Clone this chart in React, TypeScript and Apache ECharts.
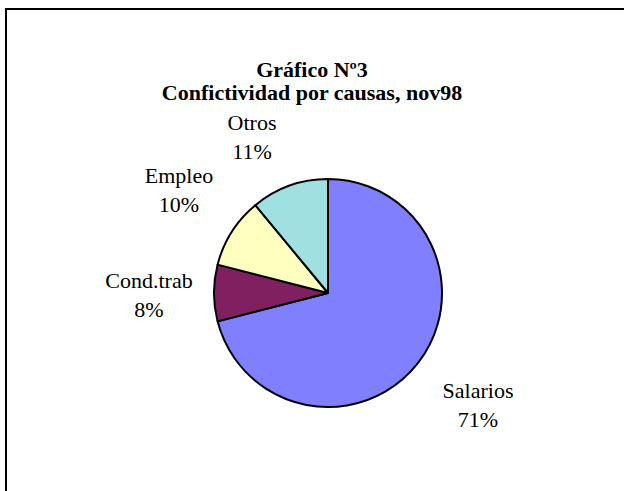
import React, { useEffect, useRef } from "react";
import * as echarts from "echarts";

const TITLE_LINES = ["Gráfico Nº3", "Confictividad por causas, nov98"];
const CATEGORIES = ["Salarios", "Cond.trab", "Empleo", "Otros"];
const VALUES = [71, 8, 10, 11];
const COLORS = ["#8080FF", "#802060", "#FFFFC0", "#A0E0E0"];

// label block centres (layout only)
const LABEL_ANCHORS: Record<string, [number, number]> = {
  Salarios: [478, 405],
  "Cond.trab": [149, 295],
  Empleo: [179, 190],
  Otros: [252, 137],
};

const FONT = "'Liberation Serif', 'Times New Roman', serif";

export default function App() {
  const ref = useRef<HTMLDivElement>(null);
  useEffect(() => {
    if (!ref.current) return;
    const chart = echarts.init(ref.current, null, { renderer: "svg" });
    chart.setOption({
      animation: false,
      backgroundColor: "#ffffff",
      title: {
        text: TITLE_LINES.join("\n"),
        left: 312,
        textAlign: "center",
        top: 58,
        padding: 0,
        textStyle: {
          fontFamily: FONT,
          fontWeight: "bold",
          fontSize: 22,
          lineHeight: 23,
          color: "#000",
        },
      },
      graphic: [
        {
          type: "rect",
          shape: { x: 6, y: 9, width: 1000, height: 1000 },
          style: { fill: "none", stroke: "#000", lineWidth: 2 },
          silent: true,
        },
      ],
      series: [
        {
          type: "pie",
          center: [328, 293],
          radius: 114,
          startAngle: 90,
          clockwise: true,
          avoidLabelOverlap: false,
          itemStyle: { borderColor: "#000", borderWidth: 2 },
          emphasis: { disabled: true },
          label: {
            show: true,
            position: "outside",
            formatter: (p: any) => `${p.name}\n${p.value}%`,
            fontFamily: FONT,
            fontSize: 22,
            lineHeight: 29,
            color: "#000",
            align: "center",
          },
          labelLine: { show: false },
          labelLayout: (p: any) => {
            const name = CATEGORIES[p.dataIndex];
            const a = LABEL_ANCHORS[name];
            return { x: a[0], y: a[1], align: "center", verticalAlign: "middle" };
          },
          data: CATEGORIES.map((c, i) => ({
            name: c,
            value: VALUES[i],
            itemStyle: { color: COLORS[i] },
          })),
        },
      ],
    });
    return () => chart.dispose();
  }, []);
  return (
    <div
      ref={ref}
      style={{ position: "fixed", left: 0, top: 0, width: 624, height: 491 }}
    />
  );
}
